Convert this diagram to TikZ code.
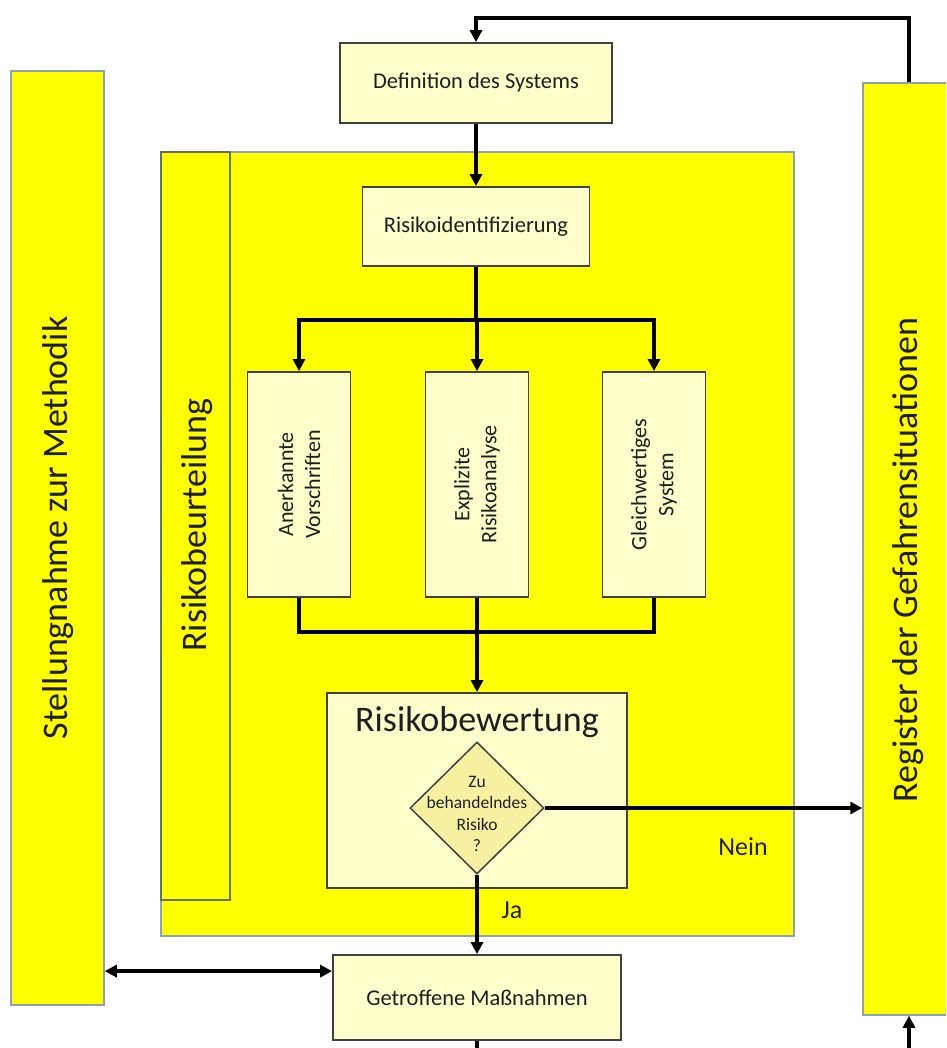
\documentclass[tikz,border=0pt]{standalone}
\usepackage{fontspec}
\setmainfont{Carlito}
\usetikzlibrary{arrows.meta,shapes.geometric}
\definecolor{ybar}{HTML}{FFFF00}
\definecolor{ybord}{HTML}{8FA0B5}
\definecolor{cream}{HTML}{FFFFCC}
\definecolor{diafill}{HTML}{F7F0A0}
\definecolor{boxline}{HTML}{404040}
\definecolor{stripline}{HTML}{66705F}
\definecolor{txt}{HTML}{1E1E1E}
\begin{document}
\begin{tikzpicture}[x=1pt,y=-1pt,
  yellowbar/.style={draw=ybord,line width=1.5pt,fill=ybar,inner sep=0pt,rectangle},
  stripbox/.style={draw=stripline,line width=1.6pt,fill=ybar,inner sep=0pt,rectangle},
  creambox/.style={draw=boxline,line width=1.8pt,fill=cream,inner sep=0pt,rectangle},
  diam/.style={draw=boxline,line width=1.5pt,fill=diafill,diamond,inner sep=0pt},
  bigtxt/.style={font=\fontsize{36}{42}\selectfont,text=txt},
  boxtxt/.style={font=\fontsize{22.5}{27}\selectfont,text=txt},
  vtxt/.style={font=\fontsize{22}{27}\selectfont,text=txt,align=center,rotate=90},
  smalltxt/.style={font=\fontsize{17.5}{21.5}\selectfont,text=txt,align=center},
  lbl/.style={font=\fontsize{26}{30}\selectfont,text=txt},
  conn/.style={line width=3.4pt,black},
  arr/.style={conn,-{Triangle[length=12pt,width=12pt]}},
  dblarr/.style={conn,line width=3.8pt,{Triangle[length=12pt,width=12pt]}-{Triangle[length=12pt,width=12pt]}}
]
\useasboundingbox (0,0) rectangle (946,1048);
\clip (0,0) rectangle (946,1048);

% side bars
\node[yellowbar,minimum width=93pt,minimum height=934pt] (left) at (57.5,538) {};
\node[bigtxt,rotate=90] (lefttxt) at (58,528) {Stellungnahme zur Methodik};
\node[yellowbar,minimum width=92pt,minimum height=932pt] (right) at (909,549) {};
\node[bigtxt,rotate=90] (righttxt) at (908,560) {Register der Gefahrensituationen};

% big assessment area
\node[yellowbar,minimum width=633pt,minimum height=784pt] (area) at (477.5,544) {};
\node[stripbox,minimum width=69pt,minimum height=748pt] (strip) at (195.5,526) {};
\node[bigtxt,rotate=90] (striptxt) at (197,525) {Risikobeurteilung};

% boxes
\node[creambox,minimum width=272pt,minimum height=80pt,boxtxt] (def) at (476,83) {Definition des Systems};
\node[creambox,minimum width=227pt,minimum height=79pt,boxtxt] (ident) at (476,226.5) {Risikoidentifizierung};
\node[creambox,minimum width=103pt,minimum height=225pt] (b1) at (299,484.5) {};
\node[vtxt] (b1t) at (b1.center) {Anerkannte\\Vorschriften};
\node[creambox,minimum width=103pt,minimum height=225pt] (b2) at (477,484.5) {};
\node[vtxt] (b2t) at (b2.center) {Explizite\\Risikoanalyse};
\node[creambox,minimum width=103pt,minimum height=225pt] (b3) at (654,484.5) {};
\node[vtxt] (b3t) at (b3.center) {Gleichwertiges\\System};

\node[creambox,minimum width=300pt,minimum height=195pt] (bew) at (477,790.5) {};
\node[bigtxt] (bewt) at (477,722) {Risikobewertung};
\node[diam,minimum width=134pt,minimum height=132pt] (dia) at (477,808) {};
\node[smalltxt] (diat) at (477,814) {Zu\\behandelndes\\Risiko\\?};

\node[creambox,minimum width=288pt,minimum height=85pt,boxtxt] (get) at (477,997.5) {Getroffene Maßnahmen};

\node[lbl] (nein) at (743,847) {Nein};
\node[lbl] (ja) at (512,910) {Ja};

% connectors
\coordinate (topl) at (909,18);
\draw[arr] (right.north) -- (topl) -| (def.north);
\draw[arr] (def.south) -- (ident.north);
\coordinate (br) at (476,320);
\draw[conn] (ident.south) -- (br);
\draw[arr] (br) -| (b1.north);
\draw[arr] (br) -| (b3.north);
\draw[arr] (br -| b2.north) -- (b2.north);
\coordinate (mg) at (477,632);
\draw[conn] (b1.south) |- (mg);
\draw[conn] (b3.south) |- (mg);
\draw[arr] (b2.south) -- (bew.north);
\draw[arr] (dia.east) -- (dia.east -| right.west);
\draw[arr] (dia.south) -- (get.north);
\coordinate (dl) at ([yshift=-17pt]get.north west);
\draw[dblarr] (dl -| left.east) -- (dl);
\coordinate (bot1) at (477,1060);
\draw[conn] (get.south) -- (bot1);
\coordinate (bot2) at (909,1060);
\draw[arr] (bot2) -- (right.south);
\end{tikzpicture}
\end{document}
